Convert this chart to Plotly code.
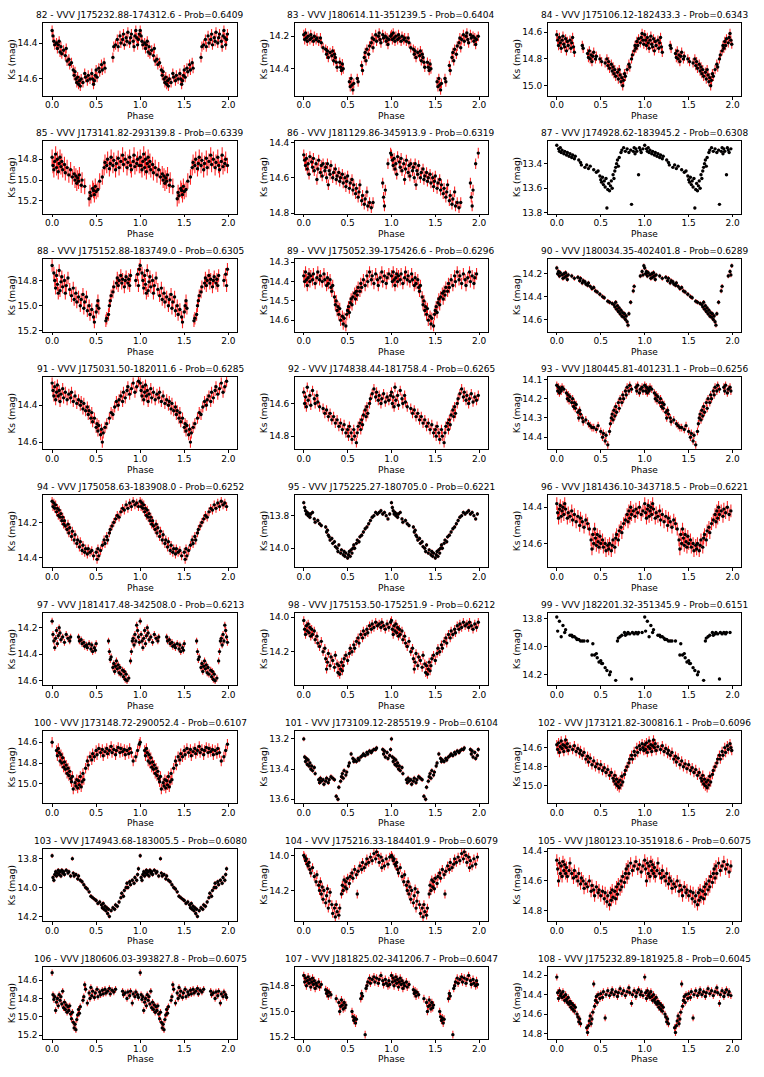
import plotly.graph_objects as go

# ---- star catalogue -------------------------------------------------------
STAR_IDS = [82, 83, 84, 85, 86, 87, 88, 89, 90, 91, 92, 93, 94, 95, 96, 97, 98, 99,
            100, 101, 102, 103, 104, 105, 106, 107, 108]
STAR_NAMES = [
    "J175232.88-174312.6", "J180614.11-351239.5", "J175106.12-182433.3",
    "J173141.82-293139.8", "J181129.86-345913.9", "J174928.62-183945.2",
    "J175152.88-183749.0", "J175052.39-175426.6", "J180034.35-402401.8",
    "J175031.50-182011.6", "J174838.44-181758.4", "J180445.81-401231.1",
    "J175058.63-183908.0", "J175225.27-180705.0", "J181436.10-343718.5",
    "J181417.48-342508.0", "J175153.50-175251.9", "J182201.32-351345.9",
    "J173148.72-290052.4", "J173109.12-285519.9", "J173121.82-300816.1",
    "J174943.68-183005.5", "J175216.33-184401.9", "J180123.10-351918.6",
    "J180606.03-393827.8", "J181825.02-341206.7", "J175232.89-181925.8",
]
PROBS = ["0.6409", "0.6404", "0.6343", "0.6339", "0.6319", "0.6308", "0.6305", "0.6296",
         "0.6289", "0.6285", "0.6265", "0.6256", "0.6252", "0.6221", "0.6221", "0.6213",
         "0.6212", "0.6151", "0.6107", "0.6104", "0.6096", "0.6080", "0.6079", "0.6075",
         "0.6075", "0.6047", "0.6045"]

# typical Ks error per star (mag)
KS_ERR = [0.028, 0.03, 0.035, 0.075, 0.03, 0.01, 0.05, 0.03, 0.02, 0.03, 0.03, 0.02,
          0.025, 0.012, 0.035, 0.025, 0.025, 0.008, 0.05, 0.015, 0.05, 0.015, 0.025,
          0.04, 0.035, 0.03, 0.035]

# y limits (faint, bright) and y ticks per panel
Y_LIMS = [(14.693, 14.289), (14.565, 14.119), (15.074, 14.533), (15.322, 14.625),
          (14.803, 14.392), (13.805, 13.217), (15.205, 14.629), (14.659, 14.283),
          (14.706, 14.071), (14.640, 14.247), (14.882, 14.437), (14.464, 14.087),
          (14.456, 14.044), (14.118, 13.673), (14.732, 14.332), (14.635, 14.088),
          (14.394, 13.976), (14.276, 13.761), (15.188, 14.491), (13.627, 13.147),
          (15.183, 14.425), (14.234, 13.732), (14.375, 13.963), (14.872, 14.384),
          (15.244, 14.455), (15.216, 14.652), (14.859, 14.114)]
Y_TICKS = [[14.4, 14.6], [14.2, 14.4], [14.6, 14.8, 15.0], [14.8, 15.0, 15.2],
           [14.4, 14.6, 14.8], [13.4, 13.6, 13.8], [14.8, 15.0, 15.2],
           [14.3, 14.4, 14.5, 14.6], [14.2, 14.4, 14.6], [14.4, 14.6], [14.6, 14.8],
           [14.1, 14.2, 14.3, 14.4], [14.2, 14.4], [13.8, 14.0], [14.4, 14.6],
           [14.2, 14.4, 14.6], [14.0, 14.2, 14.4], [13.8, 14.0, 14.2],
           [14.6, 14.8, 15.0, 15.2], [13.2, 13.4, 13.6], [14.6, 14.8, 15.0],
           [13.8, 14.0, 14.2], [14.0, 14.2], [14.4, 14.6, 14.8],
           [14.6, 14.8, 15.0, 15.2], [14.8, 15.0, 15.2], [14.2, 14.4, 14.6, 14.8]]
X_TICKS = [0.0, 0.5, 1.0, 1.5, 2.0]

# ---- folded light curves: (phase, Ks) for one cycle --------------------------
LC_82 = [(0.00, 14.33), (0.01, 14.36), (0.02, 14.39), (0.03, 14.41), (0.05, 14.40), (0.06, 14.43),
         (0.07, 14.41), (0.08, 14.39), (0.09, 14.45), (0.10, 14.42), (0.11, 14.46), (0.13, 14.44),
         (0.15, 14.47), (0.16, 14.43), (0.17, 14.50), (0.19, 14.49), (0.20, 14.52), (0.22, 14.51),
         (0.24, 14.55), (0.25, 14.58), (0.26, 14.56), (0.27, 14.60), (0.28, 14.62), (0.29, 14.59),
         (0.30, 14.63), (0.31, 14.61), (0.32, 14.64), (0.33, 14.60), (0.35, 14.62), (0.37, 14.57),
         (0.38, 14.59), (0.40, 14.61), (0.41, 14.58), (0.43, 14.60), (0.45, 14.57), (0.46, 14.60),
         (0.47, 14.63), (0.48, 14.61), (0.49, 14.58), (0.50, 14.55), (0.51, 14.59), (0.53, 14.54),
         (0.54, 14.56), (0.56, 14.52), (0.57, 14.55), (0.59, 14.51), (0.60, 14.54), (0.69, 14.48),
         (0.70, 14.42), (0.72, 14.41), (0.74, 14.38), (0.75, 14.42), (0.77, 14.36), (0.78, 14.40),
         (0.80, 14.38), (0.81, 14.35), (0.82, 14.41), (0.84, 14.37), (0.85, 14.39), (0.86, 14.34),
         (0.88, 14.40), (0.89, 14.37), (0.90, 14.35), (0.92, 14.39), (0.93, 14.42), (0.94, 14.36),
         (0.95, 14.33), (0.96, 14.37), (0.97, 14.41), (0.98, 14.38), (0.99, 14.35)]
LC_83 = [(0.00, 14.19), (0.01, 14.22), (0.02, 14.18), (0.03, 14.21), (0.04, 14.23), (0.05, 14.20),
         (0.07, 14.22), (0.08, 14.19), (0.09, 14.21), (0.11, 14.23), (0.12, 14.20), (0.14, 14.22),
         (0.15, 14.21), (0.17, 14.23), (0.19, 14.21), (0.20, 14.24), (0.22, 14.27), (0.25, 14.28),
         (0.26, 14.31), (0.27, 14.29), (0.28, 14.33), (0.30, 14.30), (0.32, 14.32), (0.33, 14.29),
         (0.34, 14.35), (0.35, 14.31), (0.36, 14.33), (0.37, 14.36), (0.38, 14.39), (0.41, 14.36),
         (0.42, 14.39), (0.43, 14.41), (0.44, 14.37), (0.45, 14.40), (0.52, 14.48), (0.53, 14.51),
         (0.54, 14.46), (0.55, 14.50), (0.56, 14.53), (0.57, 14.49), (0.61, 14.46), (0.62, 14.48),
         (0.66, 14.38), (0.67, 14.41), (0.69, 14.33), (0.70, 14.30), (0.71, 14.35), (0.72, 14.28),
         (0.74, 14.31), (0.75, 14.26), (0.77, 14.24), (0.78, 14.21), (0.79, 14.27), (0.80, 14.22),
         (0.82, 14.19), (0.83, 14.23), (0.85, 14.20), (0.86, 14.18), (0.87, 14.22), (0.88, 14.24),
         (0.90, 14.19), (0.91, 14.21), (0.93, 14.20), (0.94, 14.23), (0.95, 14.21), (0.96, 14.25),
         (0.97, 14.22), (0.99, 14.20)]
LC_84 = [(0.00, 14.62), (0.01, 14.66), (0.02, 14.70), (0.03, 14.64), (0.04, 14.68), (0.05, 14.72),
         (0.06, 14.66), (0.07, 14.63), (0.08, 14.69), (0.09, 14.71), (0.10, 14.65), (0.11, 14.74),
         (0.12, 14.67), (0.13, 14.70), (0.15, 14.66), (0.16, 14.72), (0.17, 14.68), (0.18, 14.64),
         (0.19, 14.71), (0.20, 14.75), (0.29, 14.70), (0.30, 14.72), (0.35, 14.76), (0.36, 14.79),
         (0.37, 14.74), (0.38, 14.80), (0.39, 14.77), (0.40, 14.82), (0.41, 14.78), (0.42, 14.75),
         (0.44, 14.80), (0.45, 14.78), (0.49, 14.80), (0.51, 14.82), (0.55, 14.83), (0.57, 14.80),
         (0.58, 14.85), (0.59, 14.82), (0.60, 14.87), (0.62, 14.84), (0.63, 14.89), (0.64, 14.86),
         (0.65, 14.91), (0.66, 14.88), (0.67, 14.93), (0.69, 14.90), (0.70, 14.95), (0.71, 14.88),
         (0.72, 14.92), (0.73, 14.97), (0.74, 14.94), (0.75, 15.00), (0.76, 14.96), (0.77, 14.91),
         (0.78, 14.93), (0.80, 14.88), (0.82, 14.84), (0.83, 14.86), (0.85, 14.80), (0.86, 14.77),
         (0.88, 14.74), (0.89, 14.70), (0.90, 14.72), (0.91, 14.67), (0.92, 14.70), (0.93, 14.65),
         (0.95, 14.68), (0.96, 14.64), (0.97, 14.61), (0.98, 14.66), (0.99, 14.69)]
LC_85 = [(0.00, 14.78), (0.01, 14.86), (0.02, 14.90), (0.03, 14.82), (0.04, 14.75), (0.05, 14.88),
         (0.06, 14.80), (0.07, 14.92), (0.08, 14.84), (0.09, 14.78), (0.10, 14.87), (0.11, 14.82),
         (0.12, 14.90), (0.14, 14.85), (0.15, 14.93), (0.17, 14.88), (0.19, 14.95), (0.21, 14.90),
         (0.23, 14.97), (0.25, 14.94), (0.26, 15.00), (0.27, 14.96), (0.28, 15.03), (0.29, 14.98),
         (0.30, 15.01), (0.31, 14.95), (0.33, 15.05), (0.34, 15.00), (0.37, 15.06), (0.42, 15.18),
         (0.43, 15.12), (0.44, 15.15), (0.46, 15.08), (0.47, 15.10), (0.48, 15.14), (0.49, 15.06),
         (0.50, 15.11), (0.52, 15.09), (0.54, 15.01), (0.57, 14.97), (0.59, 14.88), (0.60, 14.83),
         (0.62, 14.86), (0.63, 14.80), (0.65, 14.89), (0.66, 14.84), (0.67, 14.78), (0.69, 14.86),
         (0.70, 14.81), (0.72, 14.90), (0.73, 14.84), (0.75, 14.79), (0.76, 14.88), (0.78, 14.82),
         (0.80, 14.76), (0.81, 14.85), (0.83, 14.80), (0.85, 14.88), (0.86, 14.83), (0.88, 14.78),
         (0.89, 14.86), (0.90, 14.90), (0.92, 14.82), (0.93, 14.76), (0.94, 14.87), (0.96, 14.84),
         (0.97, 14.80), (0.99, 14.86)]
LC_86 = [(0.00, 14.47), (0.01, 14.50), (0.02, 14.53), (0.03, 14.49), (0.04, 14.55), (0.05, 14.52),
         (0.06, 14.58), (0.07, 14.48), (0.09, 14.51), (0.10, 14.54), (0.11, 14.49), (0.12, 14.56),
         (0.14, 14.52), (0.15, 14.61), (0.16, 14.55), (0.17, 14.50), (0.19, 14.57), (0.20, 14.53),
         (0.21, 14.59), (0.22, 14.52), (0.24, 14.56), (0.25, 14.54), (0.26, 14.60), (0.27, 14.52),
         (0.28, 14.64), (0.29, 14.56), (0.30, 14.58), (0.31, 14.53), (0.33, 14.60), (0.34, 14.57),
         (0.36, 14.55), (0.37, 14.61), (0.38, 14.59), (0.40, 14.57), (0.41, 14.62), (0.42, 14.60),
         (0.44, 14.58), (0.45, 14.63), (0.47, 14.60), (0.48, 14.65), (0.49, 14.62), (0.50, 14.59),
         (0.52, 14.66), (0.53, 14.63), (0.55, 14.61), (0.56, 14.67), (0.57, 14.64), (0.59, 14.69),
         (0.60, 14.66), (0.62, 14.71), (0.63, 14.68), (0.64, 14.64), (0.66, 14.73), (0.67, 14.70),
         (0.69, 14.75), (0.70, 14.72), (0.72, 14.68), (0.73, 14.76), (0.75, 14.74), (0.77, 14.77),
         (0.79, 14.74), (0.90, 14.63), (0.91, 14.71), (0.92, 14.76), (0.93, 14.67), (0.96, 14.52),
         (0.99, 14.46)]
LC_87 = [(0.00, 13.25), (0.02, 13.28), (0.03, 13.30), (0.04, 13.27), (0.05, 13.31), (0.06, 13.29),
         (0.08, 13.32), (0.09, 13.30), (0.11, 13.33), (0.12, 13.31), (0.14, 13.34), (0.15, 13.32),
         (0.17, 13.35), (0.18, 13.33), (0.20, 13.36), (0.21, 13.34), (0.25, 13.37), (0.27, 13.39),
         (0.28, 13.41), (0.32, 13.43), (0.34, 13.41), (0.36, 13.44), (0.38, 13.42), (0.42, 13.45),
         (0.45, 13.47), (0.47, 13.46), (0.49, 13.50), (0.50, 13.53), (0.51, 13.55), (0.52, 13.51),
         (0.53, 13.57), (0.54, 13.54), (0.55, 13.59), (0.56, 13.52), (0.57, 13.76), (0.58, 13.61),
         (0.59, 13.56), (0.60, 13.62), (0.61, 13.58), (0.62, 13.54), (0.63, 13.60), (0.64, 13.49),
         (0.65, 13.52), (0.66, 13.46), (0.67, 13.43), (0.68, 13.40), (0.69, 13.37), (0.70, 13.42),
         (0.71, 13.35), (0.73, 13.31), (0.74, 13.29), (0.76, 13.27), (0.78, 13.30), (0.80, 13.28),
         (0.82, 13.31), (0.84, 13.29), (0.85, 13.73), (0.87, 13.30), (0.88, 13.27), (0.89, 13.32),
         (0.90, 13.28), (0.91, 13.30), (0.93, 13.49), (0.94, 13.27), (0.95, 13.29), (0.96, 13.31),
         (0.98, 13.28)]
LC_88 = [(0.00, 14.68), (0.02, 14.74), (0.03, 14.80), (0.04, 14.86), (0.05, 14.76), (0.06, 14.83),
         (0.07, 14.90), (0.08, 14.72), (0.09, 14.88), (0.10, 14.81), (0.11, 14.77), (0.12, 14.85),
         (0.14, 14.80), (0.15, 14.90), (0.16, 14.84), (0.18, 14.78), (0.20, 14.87), (0.22, 14.92),
         (0.24, 14.86), (0.25, 14.95), (0.27, 14.90), (0.28, 14.97), (0.30, 14.93), (0.32, 15.00),
         (0.33, 14.95), (0.35, 14.91), (0.36, 15.02), (0.37, 14.97), (0.39, 14.93), (0.40, 15.04),
         (0.42, 15.00), (0.43, 15.07), (0.45, 15.03), (0.47, 15.09), (0.48, 15.13), (0.50, 15.05),
         (0.51, 15.00), (0.52, 14.96), (0.53, 15.02), (0.61, 15.12), (0.62, 15.10), (0.64, 15.07),
         (0.65, 15.00), (0.66, 14.96), (0.67, 14.92), (0.69, 14.89), (0.70, 14.85), (0.73, 14.82),
         (0.74, 14.78), (0.75, 14.84), (0.76, 14.80), (0.78, 14.76), (0.79, 14.82), (0.80, 14.79),
         (0.82, 14.85), (0.83, 14.80), (0.84, 14.77), (0.86, 14.82), (0.87, 14.79), (0.88, 14.84),
         (0.89, 14.76), (0.95, 14.80), (0.97, 14.75), (0.98, 14.84), (0.99, 14.71)]
LC_89 = [(0.00, 14.37), (0.01, 14.40), (0.02, 14.35), (0.03, 14.39), (0.04, 14.42), (0.05, 14.38),
         (0.06, 14.36), (0.07, 14.40), (0.08, 14.37), (0.10, 14.39), (0.11, 14.36), (0.13, 14.41),
         (0.15, 14.38), (0.16, 14.35), (0.18, 14.39), (0.19, 14.37), (0.21, 14.40), (0.23, 14.36),
         (0.24, 14.39), (0.26, 14.42), (0.27, 14.38), (0.28, 14.41), (0.30, 14.39), (0.31, 14.43),
         (0.32, 14.45), (0.33, 14.42), (0.35, 14.48), (0.36, 14.52), (0.37, 14.50), (0.38, 14.55),
         (0.39, 14.53), (0.40, 14.57), (0.41, 14.54), (0.42, 14.60), (0.44, 14.58), (0.45, 14.62),
         (0.46, 14.59), (0.48, 14.63), (0.49, 14.57), (0.50, 14.55), (0.51, 14.53), (0.52, 14.56),
         (0.53, 14.51), (0.54, 14.49), (0.55, 14.52), (0.56, 14.48), (0.58, 14.46), (0.59, 14.49),
         (0.60, 14.45), (0.61, 14.47), (0.62, 14.43), (0.64, 14.45), (0.65, 14.41), (0.66, 14.43),
         (0.68, 14.39), (0.70, 14.42), (0.72, 14.37), (0.73, 14.40), (0.75, 14.35), (0.77, 14.39),
         (0.78, 14.37), (0.80, 14.41), (0.82, 14.36), (0.84, 14.39), (0.85, 14.42), (0.87, 14.38),
         (0.89, 14.35), (0.90, 14.40), (0.92, 14.37), (0.94, 14.41), (0.95, 14.38), (0.97, 14.36)]
LC_90 = [(0.00, 14.15), (0.01, 14.20), (0.02, 14.18), (0.03, 14.22), (0.04, 14.19), (0.06, 14.21),
         (0.07, 14.24), (0.08, 14.20), (0.09, 14.23), (0.10, 14.19), (0.11, 14.22), (0.12, 14.25),
         (0.13, 14.21), (0.17, 14.22), (0.20, 14.24), (0.24, 14.23), (0.26, 14.26), (0.27, 14.24),
         (0.29, 14.28), (0.30, 14.26), (0.32, 14.27), (0.33, 14.29), (0.35, 14.30), (0.36, 14.28),
         (0.38, 14.31), (0.40, 14.33), (0.42, 14.32), (0.44, 14.35), (0.46, 14.36), (0.49, 14.38),
         (0.52, 14.40), (0.54, 14.41), (0.58, 14.44), (0.60, 14.45), (0.63, 14.46), (0.65, 14.47),
         (0.66, 14.49), (0.67, 14.45), (0.68, 14.51), (0.69, 14.48), (0.70, 14.53), (0.71, 14.50),
         (0.72, 14.55), (0.73, 14.52), (0.74, 14.57), (0.75, 14.54), (0.76, 14.58), (0.77, 14.55),
         (0.78, 14.60), (0.79, 14.57), (0.80, 14.62), (0.81, 14.65), (0.82, 14.55), (0.84, 14.45),
         (0.87, 14.35), (0.88, 14.31), (0.95, 14.22), (0.97, 14.18), (0.98, 14.21), (0.99, 14.13)]
LC_91 = [(0.00, 14.28), (0.01, 14.32), (0.02, 14.35), (0.03, 14.30), (0.04, 14.37), (0.05, 14.33),
         (0.06, 14.29), (0.07, 14.35), (0.08, 14.32), (0.09, 14.38), (0.10, 14.34), (0.12, 14.31),
         (0.13, 14.36), (0.15, 14.33), (0.17, 14.37), (0.19, 14.34), (0.21, 14.36), (0.22, 14.33),
         (0.24, 14.38), (0.26, 14.35), (0.28, 14.39), (0.30, 14.37), (0.32, 14.40), (0.33, 14.38),
         (0.35, 14.42), (0.36, 14.39), (0.38, 14.43), (0.40, 14.41), (0.41, 14.45), (0.42, 14.43),
         (0.44, 14.47), (0.45, 14.44), (0.46, 14.49), (0.48, 14.47), (0.50, 14.52), (0.51, 14.50),
         (0.52, 14.54), (0.53, 14.51), (0.55, 14.56), (0.56, 14.53), (0.57, 14.60), (0.58, 14.55),
         (0.60, 14.52), (0.62, 14.50), (0.65, 14.47), (0.67, 14.44), (0.69, 14.45), (0.71, 14.41),
         (0.73, 14.38), (0.75, 14.40), (0.76, 14.37), (0.78, 14.35), (0.80, 14.38), (0.81, 14.33),
         (0.83, 14.36), (0.85, 14.32), (0.86, 14.30), (0.88, 14.34), (0.90, 14.31), (0.92, 14.28),
         (0.94, 14.33), (0.96, 14.30), (0.98, 14.27)]
LC_92 = [(0.00, 14.53), (0.01, 14.60), (0.02, 14.56), (0.03, 14.62), (0.04, 14.50), (0.05, 14.58),
         (0.07, 14.55), (0.08, 14.61), (0.10, 14.52), (0.12, 14.57), (0.13, 14.60), (0.15, 14.55),
         (0.16, 14.59), (0.18, 14.62), (0.22, 14.63), (0.24, 14.66), (0.26, 14.64), (0.28, 14.68),
         (0.30, 14.66), (0.32, 14.70), (0.34, 14.68), (0.36, 14.72), (0.38, 14.70), (0.40, 14.74),
         (0.42, 14.72), (0.44, 14.76), (0.46, 14.73), (0.48, 14.78), (0.50, 14.76), (0.51, 14.80),
         (0.52, 14.74), (0.54, 14.78), (0.55, 14.82), (0.57, 14.76), (0.58, 14.80), (0.60, 14.84),
         (0.61, 14.78), (0.62, 14.74), (0.64, 14.72), (0.65, 14.76), (0.66, 14.70), (0.67, 14.73),
         (0.68, 14.67), (0.70, 14.64), (0.71, 14.68), (0.72, 14.62), (0.73, 14.66), (0.75, 14.60),
         (0.76, 14.57), (0.78, 14.54), (0.80, 14.51), (0.82, 14.56), (0.83, 14.53), (0.85, 14.58),
         (0.86, 14.55), (0.88, 14.60), (0.89, 14.57), (0.91, 14.54), (0.93, 14.59), (0.95, 14.56),
         (0.97, 14.58), (0.99, 14.55)]
LC_93 = [(0.00, 14.13), (0.01, 14.16), (0.02, 14.14), (0.03, 14.17), (0.04, 14.15), (0.05, 14.16),
         (0.06, 14.14), (0.08, 14.15), (0.11, 14.17), (0.12, 14.20), (0.13, 14.18), (0.14, 14.21),
         (0.15, 14.19), (0.17, 14.22), (0.18, 14.20), (0.19, 14.24), (0.20, 14.22), (0.21, 14.25),
         (0.22, 14.23), (0.24, 14.27), (0.25, 14.30), (0.26, 14.26), (0.27, 14.28), (0.29, 14.30),
         (0.30, 14.32), (0.33, 14.31), (0.36, 14.33), (0.38, 14.34), (0.40, 14.35), (0.42, 14.35),
         (0.45, 14.36), (0.47, 14.34), (0.50, 14.37), (0.52, 14.40), (0.53, 14.38), (0.55, 14.42),
         (0.56, 14.39), (0.58, 14.44), (0.60, 14.37), (0.61, 14.33), (0.62, 14.30), (0.63, 14.28),
         (0.64, 14.31), (0.65, 14.26), (0.66, 14.29), (0.67, 14.24), (0.68, 14.27), (0.70, 14.22),
         (0.71, 14.25), (0.72, 14.20), (0.74, 14.22), (0.75, 14.18), (0.76, 14.20), (0.78, 14.16),
         (0.79, 14.18), (0.80, 14.14), (0.82, 14.16), (0.83, 14.13), (0.85, 14.15), (0.90, 14.14),
         (0.91, 14.16), (0.92, 14.13), (0.94, 14.17), (0.95, 14.15), (0.97, 14.14), (0.98, 14.16)]
LC_94 = [(0.00, 14.08), (0.01, 14.11), (0.02, 14.09), (0.03, 14.12), (0.04, 14.10), (0.05, 14.14),
         (0.06, 14.12), (0.07, 14.16), (0.08, 14.13), (0.09, 14.17), (0.10, 14.15), (0.11, 14.19),
         (0.12, 14.17), (0.13, 14.21), (0.14, 14.19), (0.15, 14.22), (0.17, 14.24), (0.18, 14.21),
         (0.19, 14.26), (0.20, 14.23), (0.22, 14.28), (0.23, 14.25), (0.25, 14.30), (0.26, 14.27),
         (0.28, 14.32), (0.29, 14.30), (0.31, 14.34), (0.32, 14.31), (0.34, 14.36), (0.35, 14.33),
         (0.37, 14.37), (0.38, 14.35), (0.40, 14.38), (0.41, 14.35), (0.43, 14.37), (0.45, 14.36),
         (0.47, 14.39), (0.50, 14.37), (0.51, 14.41), (0.52, 14.35), (0.53, 14.39), (0.55, 14.36),
         (0.57, 14.33), (0.59, 14.30), (0.60, 14.32), (0.62, 14.28), (0.63, 14.30), (0.65, 14.26),
         (0.66, 14.24), (0.68, 14.22), (0.70, 14.20), (0.72, 14.18), (0.74, 14.16), (0.76, 14.17),
         (0.78, 14.14), (0.80, 14.12), (0.82, 14.13), (0.84, 14.10), (0.86, 14.12), (0.88, 14.09),
         (0.90, 14.11), (0.92, 14.08), (0.94, 14.10), (0.96, 14.09), (0.98, 14.11)]
LC_95 = [(0.00, 13.72), (0.01, 13.75), (0.02, 13.77), (0.03, 13.79), (0.04, 13.78), (0.05, 13.80),
         (0.06, 13.79), (0.07, 13.81), (0.08, 13.79), (0.10, 13.78), (0.12, 13.82), (0.13, 13.84),
         (0.16, 13.83), (0.18, 13.85), (0.20, 13.86), (0.25, 13.87), (0.26, 13.90), (0.27, 13.89),
         (0.28, 13.92), (0.29, 13.93), (0.30, 13.95), (0.32, 13.94), (0.33, 13.97), (0.35, 13.96),
         (0.36, 13.99), (0.38, 14.00), (0.39, 14.02), (0.40, 13.98), (0.42, 14.03), (0.43, 14.01),
         (0.45, 14.04), (0.46, 14.02), (0.47, 14.05), (0.48, 14.03), (0.50, 14.06), (0.51, 14.04),
         (0.52, 14.02), (0.53, 14.05), (0.54, 14.01), (0.55, 14.03), (0.56, 14.00), (0.57, 13.98),
         (0.58, 14.00), (0.60, 13.97), (0.61, 13.95), (0.63, 13.96), (0.64, 13.93), (0.66, 13.92),
         (0.68, 13.90), (0.70, 13.88), (0.72, 13.87), (0.74, 13.85), (0.76, 13.83), (0.78, 13.81),
         (0.80, 13.80), (0.82, 13.78), (0.84, 13.79), (0.86, 13.78), (0.88, 13.77), (0.90, 13.79),
         (0.92, 13.78), (0.94, 13.80), (0.96, 13.82), (0.98, 13.79)]
LC_96 = [(0.00, 14.38), (0.01, 14.43), (0.02, 14.46), (0.03, 14.41), (0.04, 14.39), (0.05, 14.45),
         (0.06, 14.42), (0.07, 14.40), (0.08, 14.44), (0.09, 14.38), (0.10, 14.41), (0.12, 14.46),
         (0.13, 14.43), (0.15, 14.45), (0.17, 14.42), (0.18, 14.47), (0.20, 14.44), (0.22, 14.48),
         (0.24, 14.45), (0.26, 14.50), (0.27, 14.46), (0.29, 14.48), (0.31, 14.51), (0.33, 14.47),
         (0.35, 14.49), (0.37, 14.52), (0.39, 14.58), (0.40, 14.63), (0.41, 14.55), (0.42, 14.60),
         (0.43, 14.52), (0.44, 14.57), (0.45, 14.61), (0.46, 14.55), (0.47, 14.59), (0.48, 14.62),
         (0.49, 14.56), (0.50, 14.60), (0.52, 14.58), (0.53, 14.62), (0.55, 14.60), (0.56, 14.64),
         (0.58, 14.61), (0.59, 14.63), (0.60, 14.60), (0.62, 14.64), (0.63, 14.61), (0.64, 14.58),
         (0.66, 14.62), (0.67, 14.57), (0.68, 14.55), (0.70, 14.58), (0.71, 14.53), (0.73, 14.51),
         (0.74, 14.54), (0.76, 14.49), (0.78, 14.47), (0.80, 14.44), (0.81, 14.48), (0.82, 14.42),
         (0.83, 14.46), (0.84, 14.40), (0.85, 14.44), (0.87, 14.42), (0.89, 14.45), (0.90, 14.41),
         (0.92, 14.43), (0.94, 14.40), (0.96, 14.44), (0.98, 14.42)]
LC_97 = [(0.00, 14.15), (0.01, 14.25), (0.02, 14.30), (0.03, 14.35), (0.04, 14.28), (0.05, 14.22),
         (0.06, 14.32), (0.07, 14.26), (0.08, 14.20), (0.09, 14.24), (0.10, 14.29), (0.12, 14.27),
         (0.14, 14.31), (0.16, 14.25), (0.18, 14.28), (0.20, 14.30), (0.21, 14.27), (0.30, 14.27),
         (0.31, 14.30), (0.33, 14.29), (0.34, 14.32), (0.36, 14.31), (0.37, 14.34), (0.39, 14.33),
         (0.40, 14.35), (0.42, 14.32), (0.44, 14.36), (0.45, 14.33), (0.46, 14.38), (0.48, 14.35),
         (0.49, 14.37), (0.50, 14.32), (0.64, 14.30), (0.65, 14.38), (0.66, 14.44), (0.67, 14.42),
         (0.69, 14.50), (0.70, 14.47), (0.71, 14.53), (0.72, 14.49), (0.73, 14.45), (0.74, 14.51),
         (0.75, 14.48), (0.76, 14.54), (0.77, 14.50), (0.78, 14.55), (0.80, 14.52), (0.81, 14.57),
         (0.82, 14.53), (0.83, 14.59), (0.84, 14.55), (0.85, 14.60), (0.87, 14.58), (0.89, 14.45),
         (0.90, 14.38), (0.91, 14.30), (0.92, 14.28), (0.93, 14.33), (0.94, 14.25), (0.95, 14.30),
         (0.96, 14.18), (0.97, 14.22), (0.98, 14.27), (0.99, 14.31)]
LC_98 = [(0.00, 14.02), (0.01, 14.07), (0.02, 14.10), (0.03, 14.05), (0.04, 14.08), (0.05, 14.04),
         (0.06, 14.09), (0.07, 14.06), (0.08, 14.11), (0.09, 14.07), (0.10, 14.10), (0.12, 14.08),
         (0.13, 14.13), (0.15, 14.11), (0.16, 14.15), (0.18, 14.17), (0.20, 14.14), (0.22, 14.20),
         (0.24, 14.18), (0.25, 14.24), (0.26, 14.30), (0.27, 14.26), (0.28, 14.21), (0.30, 14.28),
         (0.31, 14.23), (0.33, 14.25), (0.35, 14.29), (0.36, 14.22), (0.38, 14.27), (0.39, 14.32),
         (0.40, 14.28), (0.41, 14.33), (0.42, 14.30), (0.43, 14.26), (0.44, 14.31), (0.45, 14.28),
         (0.46, 14.24), (0.48, 14.22), (0.50, 14.25), (0.52, 14.21), (0.53, 14.18), (0.55, 14.20),
         (0.57, 14.16), (0.58, 14.18), (0.60, 14.14), (0.62, 14.12), (0.63, 14.15), (0.65, 14.10),
         (0.67, 14.12), (0.68, 14.08), (0.70, 14.10), (0.72, 14.07), (0.73, 14.09), (0.75, 14.05),
         (0.77, 14.07), (0.78, 14.04), (0.80, 14.06), (0.82, 14.03), (0.84, 14.05), (0.86, 14.04),
         (0.88, 14.06), (0.89, 14.03), (0.91, 14.05), (0.93, 14.07), (0.95, 14.04), (0.97, 14.06),
         (0.99, 14.03)]
LC_99 = [(0.00, 13.79), (0.01, 13.89), (0.03, 13.82), (0.05, 13.93), (0.07, 13.85), (0.09, 13.90),
         (0.10, 13.88), (0.15, 13.92), (0.17, 13.92), (0.18, 13.93), (0.20, 13.93), (0.22, 13.94),
         (0.23, 13.95), (0.25, 13.95), (0.27, 13.96), (0.29, 13.96), (0.31, 13.96), (0.35, 13.96),
         (0.40, 14.06), (0.41, 13.98), (0.43, 14.06), (0.45, 14.05), (0.46, 14.08), (0.48, 14.11),
         (0.50, 14.10), (0.51, 14.12), (0.52, 14.12), (0.55, 14.15), (0.57, 14.17), (0.60, 14.20),
         (0.61, 14.18), (0.67, 14.24), (0.69, 13.96), (0.70, 13.94), (0.72, 13.93), (0.74, 13.92),
         (0.77, 13.90), (0.78, 13.92), (0.80, 13.91), (0.81, 13.90), (0.83, 13.91), (0.85, 14.23),
         (0.86, 13.90), (0.88, 13.91), (0.90, 13.90), (0.92, 13.91), (0.93, 13.90), (0.97, 13.90)]
LC_100 = [(0.00, 14.60), (0.05, 14.68), (0.06, 14.73), (0.07, 14.66), (0.08, 14.70), (0.09, 14.78),
          (0.10, 14.72), (0.11, 14.80), (0.12, 14.75), (0.13, 14.84), (0.14, 14.79), (0.15, 14.86),
          (0.16, 14.82), (0.17, 14.90), (0.18, 14.85), (0.19, 14.92), (0.20, 14.88), (0.21, 14.95),
          (0.22, 14.98), (0.23, 14.93), (0.24, 15.05), (0.26, 14.99), (0.27, 15.02), (0.28, 14.96),
          (0.29, 15.04), (0.30, 14.97), (0.31, 15.01), (0.32, 14.93), (0.33, 15.03), (0.34, 14.98),
          (0.35, 14.90), (0.36, 14.96), (0.38, 14.85), (0.40, 14.78), (0.41, 14.82), (0.43, 14.74),
          (0.45, 14.77), (0.46, 14.71), (0.48, 14.74), (0.50, 14.68), (0.51, 14.72), (0.53, 14.66),
          (0.55, 14.70), (0.57, 14.67), (0.58, 14.73), (0.60, 14.69), (0.62, 14.66), (0.63, 14.71),
          (0.65, 14.68), (0.67, 14.64), (0.68, 14.70), (0.70, 14.67), (0.72, 14.72), (0.73, 14.68),
          (0.75, 14.65), (0.77, 14.70), (0.78, 14.66), (0.80, 14.69), (0.82, 14.67), (0.83, 14.72),
          (0.85, 14.68), (0.87, 14.71), (0.88, 14.66), (0.90, 14.70), (0.92, 14.78), (0.95, 14.74),
          (0.97, 14.68), (0.99, 14.62)]
LC_101 = [(0.00, 13.20), (0.01, 13.32), (0.02, 13.35), (0.03, 13.33), (0.04, 13.37), (0.05, 13.34),
          (0.06, 13.38), (0.07, 13.36), (0.08, 13.40), (0.09, 13.38), (0.10, 13.41), (0.12, 13.39),
          (0.13, 13.43), (0.17, 13.47), (0.18, 13.49), (0.19, 13.46), (0.20, 13.48), (0.22, 13.47),
          (0.23, 13.50), (0.25, 13.48), (0.26, 13.46), (0.28, 13.49), (0.29, 13.47), (0.31, 13.45),
          (0.33, 13.46), (0.35, 13.47), (0.37, 13.58), (0.39, 13.60), (0.40, 13.52), (0.42, 13.48),
          (0.43, 13.45), (0.44, 13.43), (0.45, 13.46), (0.46, 13.41), (0.48, 13.44), (0.49, 13.42),
          (0.51, 13.38), (0.52, 13.36), (0.54, 13.30), (0.56, 13.33), (0.57, 13.35), (0.58, 13.34),
          (0.60, 13.35), (0.62, 13.33), (0.63, 13.34), (0.65, 13.32), (0.67, 13.31), (0.68, 13.30),
          (0.70, 13.31), (0.72, 13.29), (0.73, 13.30), (0.75, 13.28), (0.77, 13.29), (0.78, 13.28),
          (0.80, 13.27), (0.82, 13.27), (0.83, 13.26), (0.90, 13.27), (0.91, 13.30), (0.92, 13.28),
          (0.93, 13.32), (0.95, 13.29), (0.96, 13.33), (0.98, 13.31), (0.99, 13.27)]
LC_102 = [(0.00, 14.57), (0.01, 14.62), (0.02, 14.55), (0.03, 14.65), (0.04, 14.59), (0.05, 14.53),
          (0.06, 14.61), (0.07, 14.57), (0.08, 14.64), (0.09, 14.58), (0.10, 14.52), (0.11, 14.60),
          (0.12, 14.56), (0.13, 14.63), (0.15, 14.59), (0.18, 14.62), (0.20, 14.58), (0.22, 14.64),
          (0.24, 14.61), (0.26, 14.66), (0.27, 14.63), (0.29, 14.68), (0.31, 14.65), (0.33, 14.72),
          (0.35, 14.69), (0.36, 14.75), (0.38, 14.71), (0.40, 14.78), (0.42, 14.74), (0.44, 14.80),
          (0.46, 14.77), (0.48, 14.82), (0.50, 14.78), (0.52, 14.84), (0.54, 14.81), (0.56, 14.86),
          (0.58, 14.83), (0.60, 14.89), (0.62, 14.86), (0.64, 14.92), (0.65, 14.95), (0.66, 14.89),
          (0.67, 14.98), (0.68, 14.93), (0.69, 15.00), (0.70, 14.96), (0.71, 15.02), (0.72, 14.94),
          (0.73, 14.99), (0.74, 14.90), (0.75, 14.96), (0.77, 14.88), (0.78, 14.84), (0.80, 14.80),
          (0.82, 14.76), (0.83, 14.72), (0.85, 14.68), (0.86, 14.72), (0.88, 14.64), (0.89, 14.68),
          (0.91, 14.60), (0.92, 14.65), (0.94, 14.58), (0.95, 14.62), (0.97, 14.56), (0.98, 14.60),
          (0.99, 14.63)]
LC_103 = [(0.00, 13.78), (0.01, 13.93), (0.02, 13.95), (0.03, 13.91), (0.04, 13.89), (0.05, 13.92),
          (0.06, 13.90), (0.07, 13.88), (0.08, 13.91), (0.09, 13.89), (0.10, 13.92), (0.11, 13.88),
          (0.12, 13.90), (0.13, 13.89), (0.14, 13.91), (0.16, 13.88), (0.18, 13.90), (0.19, 13.89),
          (0.21, 13.92), (0.23, 13.80), (0.24, 13.90), (0.25, 13.92), (0.27, 13.91), (0.29, 13.94),
          (0.30, 13.92), (0.32, 13.95), (0.34, 13.96), (0.36, 13.98), (0.38, 14.00), (0.40, 14.01),
          (0.42, 14.03), (0.44, 14.06), (0.46, 14.07), (0.48, 14.08), (0.50, 14.09), (0.52, 14.11),
          (0.54, 14.10), (0.56, 14.12), (0.57, 14.14), (0.58, 14.11), (0.59, 14.15), (0.60, 14.13),
          (0.61, 14.16), (0.62, 14.14), (0.63, 14.18), (0.64, 14.15), (0.65, 14.20), (0.67, 14.16),
          (0.69, 14.14), (0.71, 14.15), (0.72, 14.12), (0.74, 14.13), (0.76, 14.10), (0.78, 14.07),
          (0.79, 14.04), (0.81, 14.06), (0.82, 14.02), (0.84, 14.00), (0.85, 13.97), (0.86, 14.00),
          (0.88, 13.96), (0.89, 13.98), (0.91, 13.95), (0.93, 13.97), (0.94, 13.93), (0.96, 13.95),
          (0.97, 13.91), (0.98, 13.87)]
LC_104 = [(0.00, 14.00), (0.01, 14.01), (0.02, 14.03), (0.03, 14.02), (0.04, 14.05), (0.05, 14.06),
          (0.06, 14.04), (0.07, 14.08), (0.08, 14.10), (0.10, 14.07), (0.12, 14.12), (0.14, 14.15),
          (0.15, 14.11), (0.17, 14.17), (0.18, 14.20), (0.19, 14.15), (0.20, 14.22), (0.21, 14.18),
          (0.22, 14.25), (0.23, 14.20), (0.25, 14.27), (0.26, 14.23), (0.27, 14.19), (0.28, 14.30),
          (0.29, 14.26), (0.30, 14.21), (0.32, 14.28), (0.33, 14.33), (0.35, 14.30), (0.36, 14.35),
          (0.37, 14.28), (0.38, 14.32), (0.40, 14.34), (0.41, 14.30), (0.43, 14.22), (0.44, 14.17),
          (0.45, 14.20), (0.46, 14.14), (0.47, 14.18), (0.48, 14.15), (0.49, 14.19), (0.50, 14.13),
          (0.52, 14.16), (0.53, 14.12), (0.55, 14.10), (0.56, 14.13), (0.58, 14.08), (0.60, 14.11),
          (0.61, 14.22), (0.62, 14.09), (0.64, 14.06), (0.66, 14.08), (0.67, 14.04), (0.69, 14.07),
          (0.71, 14.05), (0.72, 14.02), (0.74, 14.04), (0.76, 14.01), (0.78, 14.03), (0.80, 13.99),
          (0.82, 14.02), (0.83, 13.98), (0.85, 14.00), (0.86, 14.04), (0.88, 14.01), (0.89, 14.07),
          (0.90, 14.03), (0.92, 14.06), (0.94, 14.02), (0.96, 14.05), (0.98, 14.01)]
LC_105 = [(0.00, 14.46), (0.01, 14.52), (0.02, 14.60), (0.03, 14.48), (0.04, 14.55), (0.05, 14.50),
          (0.06, 14.57), (0.07, 14.47), (0.08, 14.53), (0.09, 14.49), (0.10, 14.55), (0.11, 14.51),
          (0.12, 14.57), (0.14, 14.53), (0.15, 14.48), (0.17, 14.55), (0.19, 14.58), (0.20, 14.53),
          (0.22, 14.57), (0.24, 14.60), (0.25, 14.55), (0.27, 14.62), (0.28, 14.58), (0.30, 14.60),
          (0.31, 14.65), (0.33, 14.62), (0.35, 14.64), (0.37, 14.60), (0.39, 14.67), (0.40, 14.63),
          (0.42, 14.66), (0.43, 14.70), (0.45, 14.64), (0.47, 14.68), (0.48, 14.66), (0.50, 14.70),
          (0.52, 14.67), (0.54, 14.72), (0.55, 14.68), (0.57, 14.74), (0.58, 14.70), (0.60, 14.76),
          (0.61, 14.68), (0.62, 14.73), (0.63, 14.66), (0.64, 14.71), (0.66, 14.67), (0.67, 14.72),
          (0.68, 14.64), (0.69, 14.69), (0.70, 14.62), (0.72, 14.66), (0.73, 14.60), (0.74, 14.64),
          (0.75, 14.57), (0.77, 14.61), (0.78, 14.55), (0.79, 14.52), (0.80, 14.58), (0.81, 14.50),
          (0.82, 14.55), (0.84, 14.48), (0.86, 14.53), (0.88, 14.50), (0.90, 14.47), (0.92, 14.52),
          (0.94, 14.49), (0.96, 14.54), (0.98, 14.50)]
LC_106 = [(0.00, 14.52), (0.01, 14.76), (0.02, 14.81), (0.03, 14.78), (0.04, 14.93), (0.05, 14.84),
          (0.06, 14.80), (0.07, 14.88), (0.08, 14.76), (0.09, 14.82), (0.10, 14.78), (0.11, 14.86),
          (0.12, 14.72), (0.13, 14.90), (0.14, 14.84), (0.15, 14.92), (0.16, 14.87), (0.17, 14.95),
          (0.18, 14.89), (0.19, 14.93), (0.20, 14.88), (0.21, 14.97), (0.22, 15.02), (0.23, 14.95),
          (0.24, 15.06), (0.25, 15.12), (0.26, 15.08), (0.27, 15.14), (0.28, 15.03), (0.29, 14.98),
          (0.30, 14.92), (0.31, 14.96), (0.32, 14.89), (0.35, 14.82), (0.36, 14.78), (0.37, 14.65),
          (0.38, 14.70), (0.40, 14.85), (0.42, 14.74), (0.43, 14.80), (0.44, 14.68), (0.45, 14.77),
          (0.46, 14.72), (0.48, 14.79), (0.49, 14.74), (0.51, 14.70), (0.52, 14.78), (0.54, 14.73),
          (0.55, 14.76), (0.57, 14.71), (0.58, 14.75), (0.60, 14.70), (0.61, 14.74), (0.63, 14.72),
          (0.65, 14.69), (0.66, 14.75), (0.68, 14.71), (0.70, 14.73), (0.72, 14.70), (0.80, 14.72),
          (0.81, 14.76), (0.83, 14.74), (0.85, 14.80), (0.86, 14.73), (0.88, 14.77), (0.89, 14.72),
          (0.91, 14.85), (0.92, 14.75), (0.94, 14.78), (0.95, 14.73), (0.97, 14.76), (0.98, 14.79)]
LC_107 = [(0.00, 14.72), (0.01, 14.77), (0.02, 14.74), (0.03, 14.80), (0.04, 14.76), (0.05, 14.73),
          (0.06, 14.78), (0.07, 14.75), (0.08, 14.81), (0.09, 14.77), (0.10, 14.74), (0.11, 14.79),
          (0.12, 14.76), (0.13, 14.82), (0.14, 14.78), (0.15, 14.80), (0.17, 14.77), (0.18, 14.81),
          (0.20, 14.79), (0.25, 14.83), (0.26, 14.86), (0.27, 14.84), (0.28, 14.88), (0.29, 14.85),
          (0.31, 14.87), (0.37, 14.90), (0.40, 14.93), (0.41, 15.00), (0.42, 14.96), (0.43, 14.91),
          (0.44, 14.95), (0.45, 14.98), (0.46, 14.93), (0.47, 14.97), (0.48, 14.95), (0.55, 15.00),
          (0.56, 15.04), (0.57, 15.07), (0.58, 15.05), (0.59, 15.09), (0.60, 15.06), (0.65, 14.90),
          (0.66, 14.86), (0.67, 14.88), (0.70, 15.18), (0.71, 14.82), (0.72, 14.80), (0.73, 14.77),
          (0.75, 14.74), (0.76, 14.78), (0.78, 14.75), (0.80, 14.73), (0.81, 14.77), (0.83, 14.74),
          (0.85, 14.78), (0.86, 14.75), (0.88, 14.72), (0.90, 14.76), (0.91, 14.79), (0.93, 14.75),
          (0.94, 14.78), (0.96, 14.80), (0.97, 14.76), (0.98, 14.79)]
LC_108 = [(0.00, 14.22), (0.01, 14.38), (0.02, 14.44), (0.03, 14.36), (0.04, 14.41), (0.05, 14.39),
          (0.06, 14.43), (0.07, 14.37), (0.08, 14.42), (0.09, 14.46), (0.10, 14.40), (0.11, 14.45),
          (0.12, 14.48), (0.13, 14.43), (0.14, 14.50), (0.15, 14.47), (0.16, 14.53), (0.17, 14.49),
          (0.18, 14.55), (0.19, 14.51), (0.20, 14.57), (0.21, 14.53), (0.23, 14.60), (0.24, 14.63),
          (0.25, 14.68), (0.26, 14.65), (0.27, 14.70), (0.34, 14.74), (0.35, 14.79), (0.36, 14.72),
          (0.37, 14.67), (0.38, 14.62), (0.39, 14.70), (0.40, 14.65), (0.41, 14.58), (0.42, 14.29),
          (0.43, 14.52), (0.44, 14.46), (0.45, 14.42), (0.46, 14.48), (0.47, 14.40), (0.49, 14.44),
          (0.50, 14.39), (0.52, 14.43), (0.53, 14.37), (0.55, 14.64), (0.56, 14.40), (0.58, 14.36),
          (0.60, 14.41), (0.62, 14.38), (0.63, 14.35), (0.65, 14.40), (0.67, 14.37), (0.69, 14.42),
          (0.70, 14.38), (0.72, 14.34), (0.74, 14.39), (0.76, 14.36), (0.78, 14.41), (0.80, 14.37),
          (0.82, 14.33), (0.83, 14.38), (0.85, 14.49), (0.86, 14.40), (0.88, 14.36), (0.90, 14.42),
          (0.91, 14.38), (0.93, 14.35), (0.95, 14.40), (0.96, 14.37), (0.98, 14.41)]

LIGHT_CURVES = [LC_82, LC_83, LC_84, LC_85, LC_86, LC_87, LC_88, LC_89, LC_90,
                LC_91, LC_92, LC_93, LC_94, LC_95, LC_96, LC_97, LC_98, LC_99,
                LC_100, LC_101, LC_102, LC_103, LC_104, LC_105, LC_106, LC_107, LC_108]

# ---- page geometry (pixels) ------------------------------------------------------
W, H = 764, 1077
COL_LEFT = [43.3, 295.0, 548.0]
COL_WIDTH = [193.4, 192.5, 193.0]
ROW_TOP0 = 20.3
ROW_STEP = 118.84
PANEL_H = 73.0
FONT = "DejaVu Sans"
FS = 9.0

fig = go.Figure()
annotations = []
axes = {}

for k, sid in enumerate(STAR_IDS):
    r, c = divmod(k, 3)
    n = k + 1
    sfx = "" if n == 1 else str(n)

    left = COL_LEFT[c]
    right = left + COL_WIDTH[c]
    top = ROW_TOP0 + r * ROW_STEP
    bot = top + PANEL_H
    xd = [left / W, right / W]
    yd = [1 - bot / H, 1 - top / H]

    phase = [p for p, m in LIGHT_CURVES[k]]
    ks = [m for p, m in LIGHT_CURVES[k]]
    # folded curve shown over two cycles
    xs = phase + [p + 1 for p in phase]
    ys = ks + ks

    fig.add_trace(go.Scatter(
        x=xs, y=ys, mode="markers",
        marker=dict(color="black", size=3.4),
        error_y=dict(type="constant", value=KS_ERR[k], color="rgba(255,0,0,0.85)",
                     thickness=1.1, width=0),
        xaxis="x" + sfx, yaxis="y" + sfx,
        showlegend=False, hoverinfo="skip",
    ))

    common = dict(showline=True, mirror=True, linecolor="black", linewidth=0.8,
                  ticks="outside", ticklen=3, tickwidth=0.8, tickcolor="black",
                  showgrid=False, zeroline=False,
                  tickfont=dict(family=FONT, size=FS, color="black"))
    axes["xaxis" + sfx] = dict(domain=xd, anchor="y" + sfx, range=[-0.1, 2.095],
                               tickvals=X_TICKS, tickformat=".1f",
                               ticklabelstandoff=-2, **common)
    axes["yaxis" + sfx] = dict(domain=yd, anchor="x" + sfx, range=list(Y_LIMS[k]),
                               tickvals=Y_TICKS[k], tickformat=".1f", **common)

    # panel title
    annotations.append(dict(
        text=f"{sid} - VVV {STAR_NAMES[k]} - Prob={PROBS[k]}",
        x=(xd[0] + xd[1]) / 2, y=1 - (top - 8.3) / H, xref="paper", yref="paper",
        xanchor="center", yanchor="middle", showarrow=False,
        font=dict(family=FONT, size=FS, color="black"),
    ))
    # x label
    annotations.append(dict(
        text="Phase", x=(xd[0] + xd[1]) / 2, y=1 - (bot + 20.3) / H,
        xref="paper", yref="paper", xanchor="center", yanchor="middle",
        showarrow=False, font=dict(family=FONT, size=FS, color="black"),
    ))
    # y label
    annotations.append(dict(
        text="Ks (mag)", x=(left - 31.0) / W, y=1 - (top + PANEL_H / 2) / H,
        xref="paper", yref="paper", xanchor="center", yanchor="middle",
        textangle=-90, showarrow=False, font=dict(family=FONT, size=FS, color="black"),
    ))

fig.update_layout(
    width=W, height=H,
    margin=dict(l=0, r=0, t=0, b=0),
    paper_bgcolor="white", plot_bgcolor="white",
    showlegend=False,
    font=dict(family=FONT, size=FS, color="black"),
    annotations=annotations,
    **axes,
)

# drop the browser's default page margin so the figure sits at the window corner
fig.write_html("out.html", config={"displayModeBar": False},
               post_script="document.body.style.margin='0px';document.body.style.overflow='hidden';")
